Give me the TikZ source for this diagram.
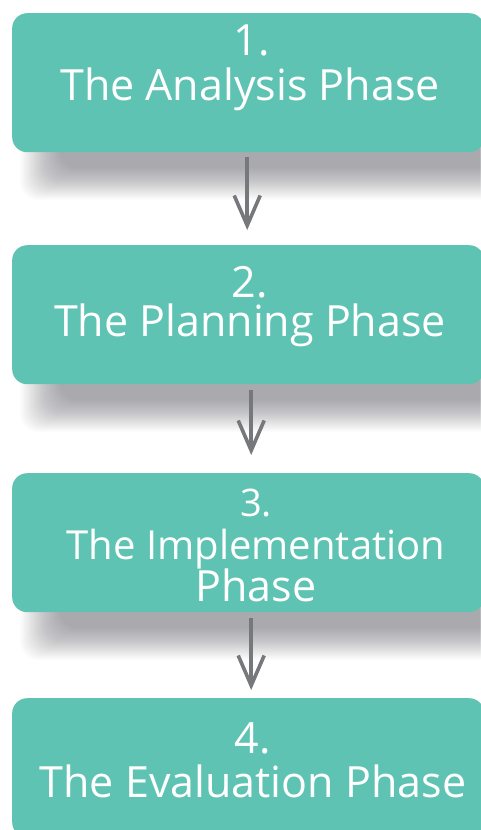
\documentclass[tikz,border=0pt]{standalone}
\usepackage{fontspec}
\setmainfont{Open Sans}
\usetikzlibrary{arrows.meta}
\definecolor{phaseteal}{HTML}{5FC3B4}
\definecolor{flowgrey}{HTML}{77787B}
\definecolor{shadowink}{HTML}{1C1E28}
\begin{document}
\begin{tikzpicture}[x=1pt,y=-1pt,
  phasebox/.style={draw=none,fill=phaseteal,rounded corners=15pt,
    minimum width=472pt,minimum height=139pt,anchor=north west,inner sep=0pt},
  shadowlayer/.style={fill=shadowink,fill opacity=0.0115,rounded corners=18pt},
  phasetext/.style={text=white,font=\fontsize{43}{48}\selectfont,anchor=base,inner sep=0pt},
  flow/.style={draw=flowgrey,line width=3.6pt,
    -{Straight Barb[length=30pt,width=26pt,line width=3.6pt]}}]
\useasboundingbox (0,0) rectangle (480,830);
\fill[white] (0,0) rectangle (480,830);

% soft drop shadows, built from stacked translucent layers
\foreach \top in {13,245,473,698}{
  \foreach \d in {-16,-15,...,16}{
    \fill[shadowlayer] (40+1.25*\d,\top+40+\d) rectangle (540,\top+171-\d);
  }
}

% phase boxes
\node[phasebox] (b1) at (12,13) {};
\node[phasebox] (b2) at (12,245) {};
\node[phasebox] (b3) at (12,473) {};
\node[phasebox] (b4) at (12,698) {};

% labels
\node[phasetext] (n1) at (252,55) {1.};
\node[phasetext] (t1) at (250,100) {The Analysis Phase};
\node[phasetext] (n2) at (250,297) {2.};
\node[phasetext] (t2) at (250,336) {The Planning Phase};
\node[phasetext,font=\fontsize{38}{44}\selectfont] (n3) at (256,516) {3.};
\node[phasetext,font=\fontsize{40}{46}\selectfont] (t3) at (256,559) {The Implementation};
\node[phasetext] (p3) at (256,601) {Phase};
\node[phasetext] (n4) at (253,753) {4.};
\node[phasetext] (t4) at (253,797) {The Evaluation Phase};

% connectors
\draw[flow] ([xshift=-1pt,yshift=-5pt]b1.south) -- ([xshift=-1pt,yshift=15pt]b2.north);
\draw[flow] ([xshift=3pt,yshift=-6pt]b2.south) -- ([xshift=3pt,yshift=18pt]b3.north);
\draw[flow] ([xshift=3pt,yshift=-6pt]b3.south) -- ([xshift=3pt,yshift=8pt]b4.north);
\end{tikzpicture}
\end{document}
